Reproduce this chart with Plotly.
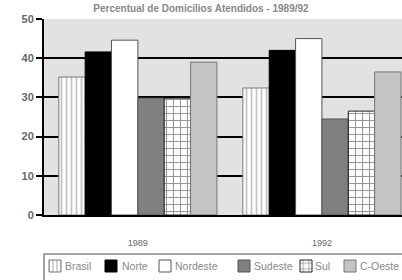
import plotly.graph_objects as go

years = ["1989", "1992"]
regions = ["Brasil", "Norte", "Nordeste", "Sudeste", "Sul", "C-Oeste"]
brasil = [35.2, 32.4]
norte = [41.6, 42.0]
nordeste = [44.6, 45.0]
sudeste = [29.8, 24.5]
sul = [29.8, 26.5]
c_oeste = [39.0, 36.5]
y_ticks = [0, 10, 20, 30, 40, 50]
title_text = "Percentual de Domicílios Atendidos - 1989/92"

series = [brasil, norte, nordeste, sudeste, sul, c_oeste]

styles = [
    dict(color="white", line=dict(color="#777", width=1),
         pattern=dict(shape="|", fgcolor="#888", bgcolor="white", size=5, solidity=0.35)),
    dict(color="black", line=dict(color="black", width=1)),
    dict(color="white", line=dict(color="#555", width=1)),
    dict(color="#808080", line=dict(color="#555", width=1)),
    dict(color="white", line=dict(color="#222", width=1),
         pattern=dict(shape="+", fgcolor="#222", bgcolor="white", size=7, solidity=0.25)),
    dict(color="#c4c4c4", line=dict(color="#777", width=1)),
]

W, H = 402, 280
ML, MR, MT, MB = 44, 0, 19, 65
PW, PH = W - ML - MR, H - MT - MB


def px_x(sx):
    return (sx - ML) / PW


def px_y(sy):
    return (H - MB - sy) / PH


swatch_cx = [55, 111, 165, 244, 306, 350]
label_x = [63, 120, 173, 252, 313, 358]
legend_cy = 266

fig = go.Figure()
legend_layouts = {}
annotations = []
for i, (name, vals, st) in enumerate(zip(regions, series, styles)):
    lname = "legend" if i == 0 else f"legend{i + 1}"
    fig.add_trace(go.Bar(x=years, y=vals, name=name, marker=st, legend=lname))
    legend_layouts[lname] = dict(
        x=px_x(swatch_cx[i] - 20), xanchor="left",
        y=px_y(legend_cy), yanchor="middle",
        borderwidth=0, bgcolor="rgba(0,0,0,0)",
        font=dict(size=1, color="rgba(0,0,0,0)"),
        itemwidth=30,
    )
    annotations.append(dict(
        text=name, x=px_x(label_x[i]), y=px_y(legend_cy), xref="paper", yref="paper",
        xanchor="left", yanchor="middle", showarrow=False,
        font=dict(size=10.5, color="#888", family="Liberation Sans, Arial, sans-serif"),
    ))

fig.update_layout(
    width=W, height=H,
    margin=dict(l=ML, r=MR, t=MT, b=MB, autoexpand=False),
    paper_bgcolor="white",
    plot_bgcolor="#e2e2e2",
    barmode="group",
    bargap=0.141,
    bargroupgap=0,
    font=dict(family="Liberation Sans, Arial, sans-serif", color="#666"),
    title=dict(text="<b>" + title_text + "</b>", x=0.5, xanchor="center",
               y=1 - 8 / H, yanchor="middle", font=dict(size=10, color="#888")),
    showlegend=True,
    annotations=annotations,
    shapes=[dict(type="rect", xref="paper", yref="paper",
                 x0=px_x(44), x1=px_x(420), y0=px_y(254), y1=px_y(283),
                 line=dict(color="#888", width=1.5), fillcolor="rgba(0,0,0,0)",
                 layer="below")],
    **legend_layouts,
)
fig.update_xaxes(type="category", range=[-0.51, 1.435], showgrid=False,
                 showline=True, linecolor="black", linewidth=2,
                 ticks="", ticklabelstandoff=18,
                 tickfont=dict(size=9, color="#666"))
fig.update_yaxes(range=[0, 50], tickvals=y_ticks, showgrid=True, gridcolor="black",
                 gridwidth=2, showline=True, linecolor="black", linewidth=2,
                 ticks="outside", ticklen=6, tickwidth=2, tickcolor="black",
                 tickfont=dict(size=11, color="#666", weight="bold"), zeroline=False)

fig.write_html(
    "out.html",
    config={"displayModeBar": False},
    post_script="document.body.style.margin='0px';document.body.style.overflow='hidden';",
)
